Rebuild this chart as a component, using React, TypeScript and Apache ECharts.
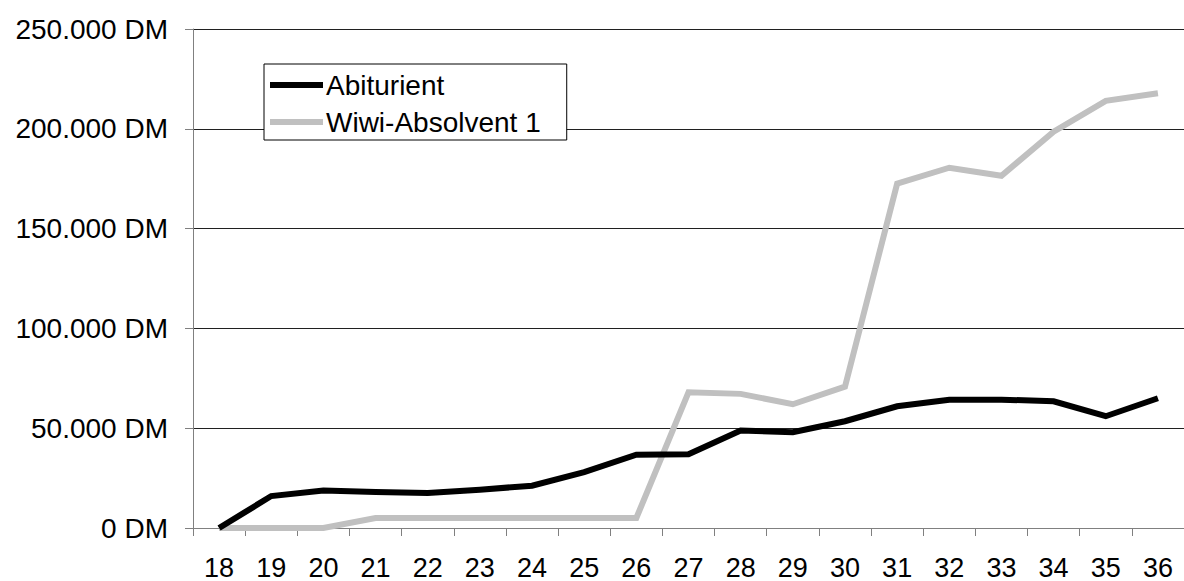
import React, { useEffect, useRef } from "react";
import * as echarts from "echarts";

const categories = ["18", "19", "20", "21", "22", "23", "24", "25", "26", "27", "28", "29", "30", "31", "32", "33", "34", "35", "36"];
const abiturient = [0, 16000, 18800, 18000, 17500, 19200, 21200, 28000, 36700, 37000, 48800, 48000, 53500, 61000, 64300, 64300, 63500, 56000, 65000];
const wiwi = [0, 0, 0, 5000, 5000, 5000, 5000, 5000, 5000, 68000, 67200, 62000, 70800, 172500, 180500, 176500, 198500, 214000, 217800];
const seriesNames = ["Abiturient", "Wiwi-Absolvent 1"];

const FONT = "'Liberation Sans', Arial, sans-serif";

function fmt(v: number): string {
  if (v === 0) return "0 DM";
  return `${Math.round(v / 1000)}.000 DM`;
}

export default function App() {
  const ref = useRef<HTMLDivElement>(null);
  useEffect(() => {
    if (!ref.current) return;
    const chart = echarts.init(ref.current, undefined, { renderer: "svg" });
    chart.setOption({
      animation: false,
      backgroundColor: "#fff",
      textStyle: { fontFamily: FONT },
      grid: { left: 193, right: 0, top: 29, bottom: 51, containLabel: false },
      legend: {
        orient: "vertical",
        left: 264,
        top: 64,
        padding: [7, 26, 4, 6],
        itemGap: 9,
        itemWidth: 53,
        itemHeight: 6,
        icon: "rect",
        backgroundColor: "#fff",
        borderColor: "#000",
        borderWidth: 1,
        borderRadius: 0,
        textStyle: { fontFamily: FONT, fontSize: 28, color: "#000", padding: [0, 0, 0, -2] },
        data: seriesNames,
      },
      xAxis: {
        type: "category",
        data: categories,
        boundaryGap: true,
        axisLine: { lineStyle: { color: "#808080", width: 1 } },
        axisTick: { show: true, length: 8, inside: false, lineStyle: { color: "#808080" } },
        axisLabel: { fontFamily: FONT, fontSize: 27, color: "#000", margin: 26 },
        splitLine: { show: false },
      },
      yAxis: {
        type: "value",
        min: 0,
        max: 250000,
        interval: 50000,
        axisLine: { show: true, lineStyle: { color: "#808080", width: 1 } },
        axisTick: { show: true, length: 8, lineStyle: { color: "#808080" } },
        axisLabel: { fontFamily: FONT, fontSize: 28, color: "#000", margin: 25, formatter: (v: number) => fmt(v) },
        splitLine: { show: true, lineStyle: { color: "#202020", width: 1 } },
      },
      series: [
        {
          name: seriesNames[0],
          type: "line",
          data: abiturient,
          symbol: "none",
          color: "#000000",
          lineStyle: { color: "#000000", width: 6, join: "miter" },
          z: 3,
        },
        {
          name: seriesNames[1],
          type: "line",
          data: wiwi,
          symbol: "none",
          color: "#c0c0c0",
          lineStyle: { color: "#c0c0c0", width: 6, join: "miter" },
          z: 2,
        },
      ],
    });
    return () => chart.dispose();
  }, []);
  return <div ref={ref} style={{ width: 1184, height: 581, position: "absolute", left: 0, top: 0 }} />;
}
